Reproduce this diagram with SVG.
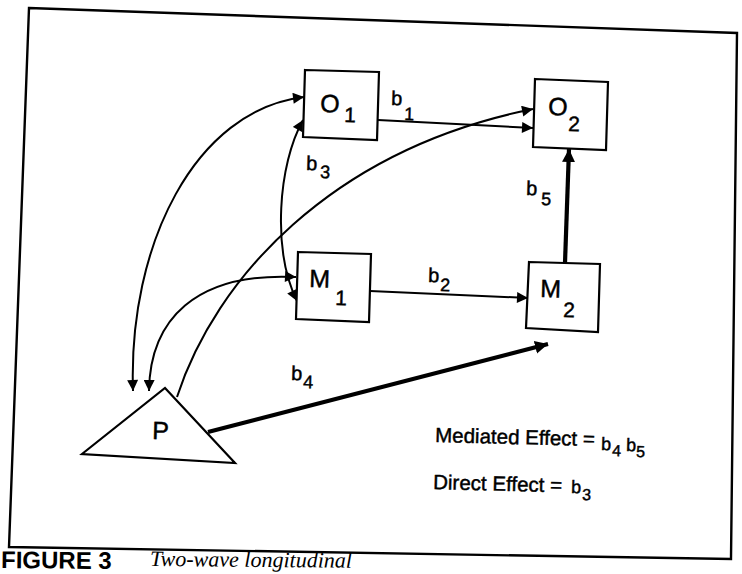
<svg xmlns="http://www.w3.org/2000/svg" width="742" height="574" viewBox="0 0 742 574">
<style>
.box{fill:#fff;stroke:#000;stroke-width:2.2;stroke-linejoin:miter}
.frame{fill:none;stroke:#000;stroke-width:2.4}
.lbl{font-family:"Liberation Sans",Arial,sans-serif;fill:#000;stroke:#000;stroke-width:0.45}
.big{font-size:25px}
.sub{font-size:21px}
.b{font-size:20px}
.bs{font-size:18px}
.leg{font-size:20.5px}
.con{fill:none;stroke:#000;stroke-width:2}
.thick{fill:none;stroke:#000;stroke-width:4.2}
</style>
<defs>
<marker id="ah" viewBox="0 0 10 10" refX="10" refY="5" markerWidth="13" markerHeight="11" markerUnits="userSpaceOnUse" orient="auto-start-reverse"><path d="M0,0 L10,5 L0,10 Z" fill="#000"/></marker>
<marker id="ahb" viewBox="0 0 10 10" refX="10" refY="5" markerWidth="13" markerHeight="16" markerUnits="userSpaceOnUse" orient="auto"><path d="M0,0 L10,5 L0,10 Z" fill="#000"/></marker>
</defs>
<rect width="742" height="574" fill="#fff"/>
<polygon class="frame" points="29,8 737,33 731,559 9,547"/>
<g id="connectors">
<path class="con" d="M133,391 C128,245 195,110 304,97" marker-start="url(#ah)" marker-end="url(#ah)"/>
<path class="con" d="M149,391 C150,320 195,272 296,277" marker-start="url(#ah)" marker-end="url(#ah)"/>
<path class="con" d="M303,120 C278,165 272,250 297,301" marker-start="url(#ah)" marker-end="url(#ah)"/>
<path class="con" d="M177,397 C215,280 330,150 533,109" marker-end="url(#ah)"/>
<path class="con" d="M378,120 L533,128" marker-end="url(#ah)"/>
<path class="con" d="M370,291 L528,298" marker-end="url(#ah)"/>
<path class="thick" d="M565,263 L569,149" marker-end="url(#ahb)"/>
<path class="thick" d="M208,432 L548,344" marker-end="url(#ahb)"/>
</g>
<g id="O1">
<polygon class="box" points="305,70 379,72 377,140 303,137"/>
<text class="lbl big" transform="translate(320,112) rotate(1.7)">O</text>
<text class="lbl sub" transform="translate(344,122) rotate(1.7)">1</text>
</g>
<g id="O2">
<polygon class="box" points="535,79 608,82 606,150 533,147"/>
<text class="lbl big" transform="translate(548,115) rotate(1.7)">O</text>
<text class="lbl sub" transform="translate(568,131) rotate(1.7)">2</text>
</g>
<g id="M1">
<polygon class="box" points="298,252 371,254 369,322 296,319"/>
<text class="lbl big" transform="translate(309,287) rotate(1.7)">M</text>
<text class="lbl sub" transform="translate(335,305) rotate(1.7)">1</text>
</g>
<g id="M2">
<polygon class="box" points="529,262 600,264 598,332 526,328"/>
<text class="lbl big" transform="translate(540,297) rotate(1.7)">M</text>
<text class="lbl sub" transform="translate(563,317) rotate(1.7)">2</text>
</g>
<g id="P">
<polygon class="box" points="165,388 235,463 82,454"/>
<text class="lbl big" transform="translate(152,439) rotate(1.7)">P</text>
</g>
<g id="edge-labels">
<text class="lbl b" transform="translate(391,105) rotate(1.7)">b</text>
<text class="lbl bs" transform="translate(404,120) rotate(1.7)">1</text>
<text class="lbl b" transform="translate(428,282) rotate(1.7)">b</text>
<text class="lbl bs" transform="translate(440,291) rotate(1.7)">2</text>
<text class="lbl b" transform="translate(306,170) rotate(1.7)">b</text>
<text class="lbl bs" transform="translate(320,178) rotate(1.7)">3</text>
<text class="lbl b" transform="translate(291,380) rotate(1.7)">b</text>
<text class="lbl bs" transform="translate(303,388) rotate(1.7)">4</text>
<text class="lbl b" transform="translate(526,195) rotate(1.7)">b</text>
<text class="lbl bs" transform="translate(541,205) rotate(1.7)">5</text>
</g>
<g id="legend">
<text class="lbl leg" transform="translate(435,442) rotate(1.5)">Mediated Effect =</text>
<text class="lbl bs" transform="translate(601,450) rotate(1.5)">b</text>
<text class="lbl" font-size="16" transform="translate(612,456) rotate(1.5)">4</text>
<text class="lbl bs" transform="translate(626,451) rotate(1.5)">b</text>
<text class="lbl" font-size="16" transform="translate(636,457) rotate(1.5)">5</text>
<text class="lbl leg" transform="translate(433,489) rotate(1.5)">Direct Effect =</text>
<text class="lbl bs" transform="translate(571,493) rotate(1.5)">b</text>
<text class="lbl" font-size="16" transform="translate(582,500) rotate(1.5)">3</text>
</g>
<g id="caption">
<text font-family="Liberation Sans,Arial,sans-serif" font-weight="bold" font-size="24" transform="translate(1,568) rotate(0.5)">FIGURE 3</text>
<text font-family="Liberation Serif,Times New Roman,serif" font-style="italic" font-size="22" transform="translate(150,566) rotate(0.5)">Two-wave longitudinal</text>
</g>
</svg>
